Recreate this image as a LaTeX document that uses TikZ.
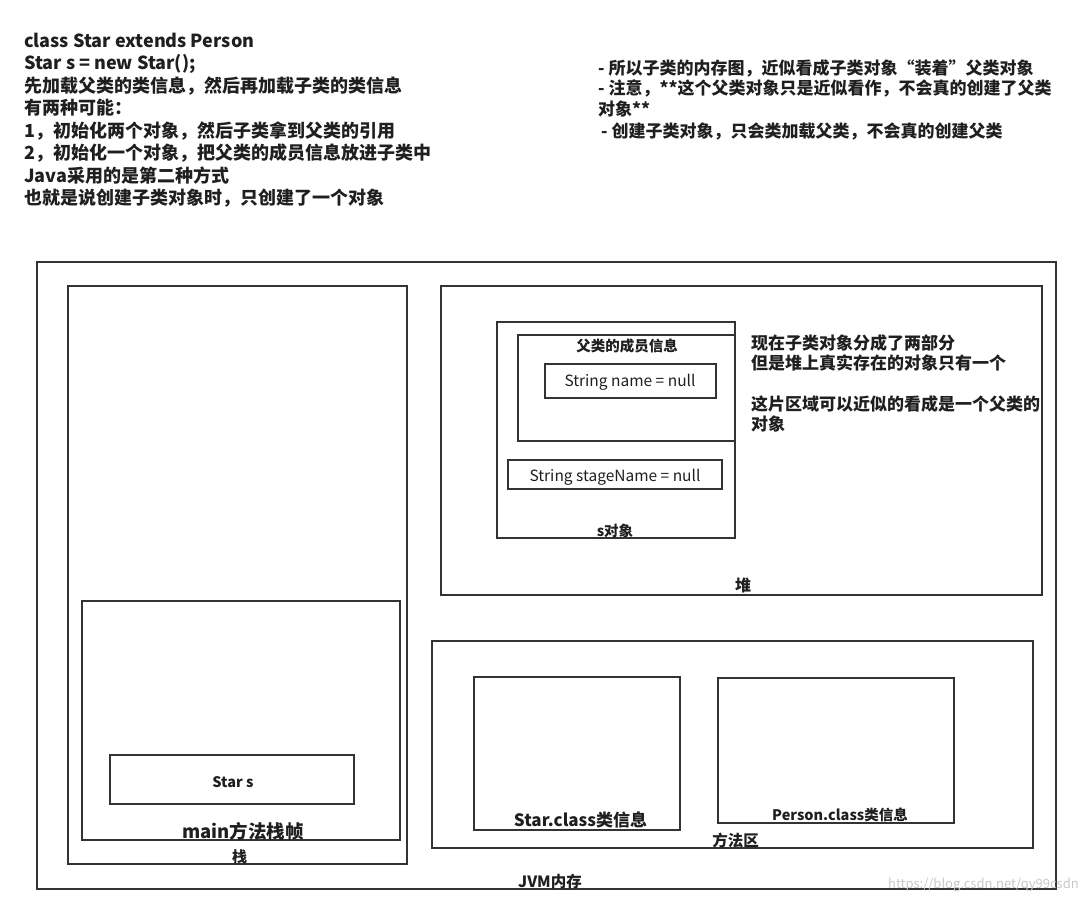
\documentclass[tikz,border=0pt]{standalone}
\usepackage{fontspec}
\setmainfont{Noto Sans CJK SC}
\begin{document}
\begin{tikzpicture}[x=1pt,y=-1pt,
  box/.style={draw=black!80,line width=1.6pt,anchor=north west,inner sep=0pt,outer sep=0pt},
  txt/.style={anchor=base west,inner sep=0pt,text=black!88},
  ctxt/.style={anchor=base,inner sep=0pt,text=black!88}]
\useasboundingbox (0,0) rectangle (1085,903);
% boxes
\node[box,minimum width=1019pt,minimum height=627pt] (jvm) at (37,262) {};
\node[box,minimum width=339pt,minimum height=578pt] (stack) at (68,286) {};
\node[box,minimum width=318pt,minimum height=239pt] (frame) at (82,601) {};
\node[box,minimum width=244pt,minimum height=49pt] (vars) at (110,755) {};
\node[box,minimum width=601pt,minimum height=309pt] (heap) at (441,286) {};
\node[box,minimum width=238pt,minimum height=216pt] (sobj) at (497,322) {};
\node[box,minimum width=217pt,minimum height=106pt] (parent) at (518,335) {};
\node[box,minimum width=171pt,minimum height=34pt] (pname) at (545,364) {};
\node[box,minimum width=214pt,minimum height=29pt] (stage) at (508,460) {};
\node[box,minimum width=601pt,minimum height=207pt] (method) at (432,641) {};
\node[box,minimum width=206pt,minimum height=153pt] (starcls) at (474,677) {};
\node[box,minimum width=236pt,minimum height=145pt] (personcls) at (718,678) {};
% top-left text
\begin{scope}[every node/.style={txt,font=\bfseries\fontsize{18}{20}\selectfont}]
\node (t1) at (24,47) {class Star extends Person};
\node (t2) at (24,69.5) {Star s = new Star();};
\node (t3) at (24,92) {先加载父类的类信息，然后再加载子类的类信息};
\node (t4) at (24,114.5) {有两种可能：};
\node (t5) at (24,137) {1，初始化两个对象，然后子类拿到父类的引用};
\node (t6) at (24,159.5) {2，初始化一个对象，把父类的成员信息放进子类中};
\node (t7) at (24,182) {Java采用的是第二种方式};
\node (t8) at (24,204.5) {也就是说创建子类对象时，只创建了一个对象};
\end{scope}
% top-right text
\begin{scope}[every node/.style={txt,font=\bfseries\fontsize{17}{19}\selectfont}]
\node (r1) at (598,74) {- 所以子类的内存图，近似看成子类对象“装着”父类对象};
\node (r2) at (598,94.5) {- 注意，**这个父类对象只是近似看作，不会真的创建了父类};
\node (r3) at (598,115) {对象**};
\node (r4) at (601,137) {- 创建子类对象，只会类加载父类，不会真的创建父类};
\end{scope}
% heap side note
\begin{scope}[every node/.style={txt,font=\bfseries\fontsize{17}{19}\selectfont}]
\node (h1) at (751,349.5) {现在子类对象分成了两部分};
\node (h2) at (751,369.5) {但是堆上真实存在的对象只有一个};
\node (h3) at (751,410.5) {这片区域可以近似的看成是一个父类的};
\node (h4) at (751,430.5) {对象};
\end{scope}
% labels
\node[ctxt,font=\bfseries\fontsize{14.5}{16}\selectfont] (lparent) at (627,351.5) {父类的成员信息};
\node[ctxt,font=\fontsize{15.5}{17}\selectfont] (lname) at (630,386.5) {String name = null};
\node[ctxt,font=\fontsize{15.5}{17}\selectfont] (lstage) at (615,481.5) {String stageName = null};
\node[ctxt,font=\bfseries\fontsize{14.5}{16}\selectfont] (lsobj) at (615,536) {s对象};
\node[ctxt,font=\bfseries\fontsize{16}{18}\selectfont] (lheap) at (743,591) {堆};
\node[ctxt,font=\bfseries\fontsize{14.5}{16}\selectfont] (lvars) at (233,787.5) {Star s};
\node[ctxt,font=\bfseries\fontsize{18.5}{20}\selectfont] (lframe) at (243,838) {main方法栈帧};
\node[ctxt,font=\bfseries\fontsize{15}{17}\selectfont] (lstack) at (239.5,862.5) {栈};
\node[ctxt,font=\bfseries\fontsize{17}{19}\selectfont] (lstar) at (580.5,826.5) {Star.class类信息};
\node[ctxt,font=\bfseries\fontsize{14.5}{16}\selectfont] (lperson) at (840,820) {Person.class类信息};
\node[ctxt,font=\bfseries\fontsize{15.5}{17}\selectfont] (lmethod) at (735.5,846.5) {方法区};
\node[ctxt,font=\bfseries\fontsize{15.5}{17}\selectfont] (ljvm) at (550,887.5) {JVM内存};
\node[anchor=base east,inner sep=0pt,text=black!22,font=\fontsize{13}{15}\selectfont] (wm) at (1079,888) {https://blog.csdn.net/qy99csdn};
\end{tikzpicture}
\end{document}
